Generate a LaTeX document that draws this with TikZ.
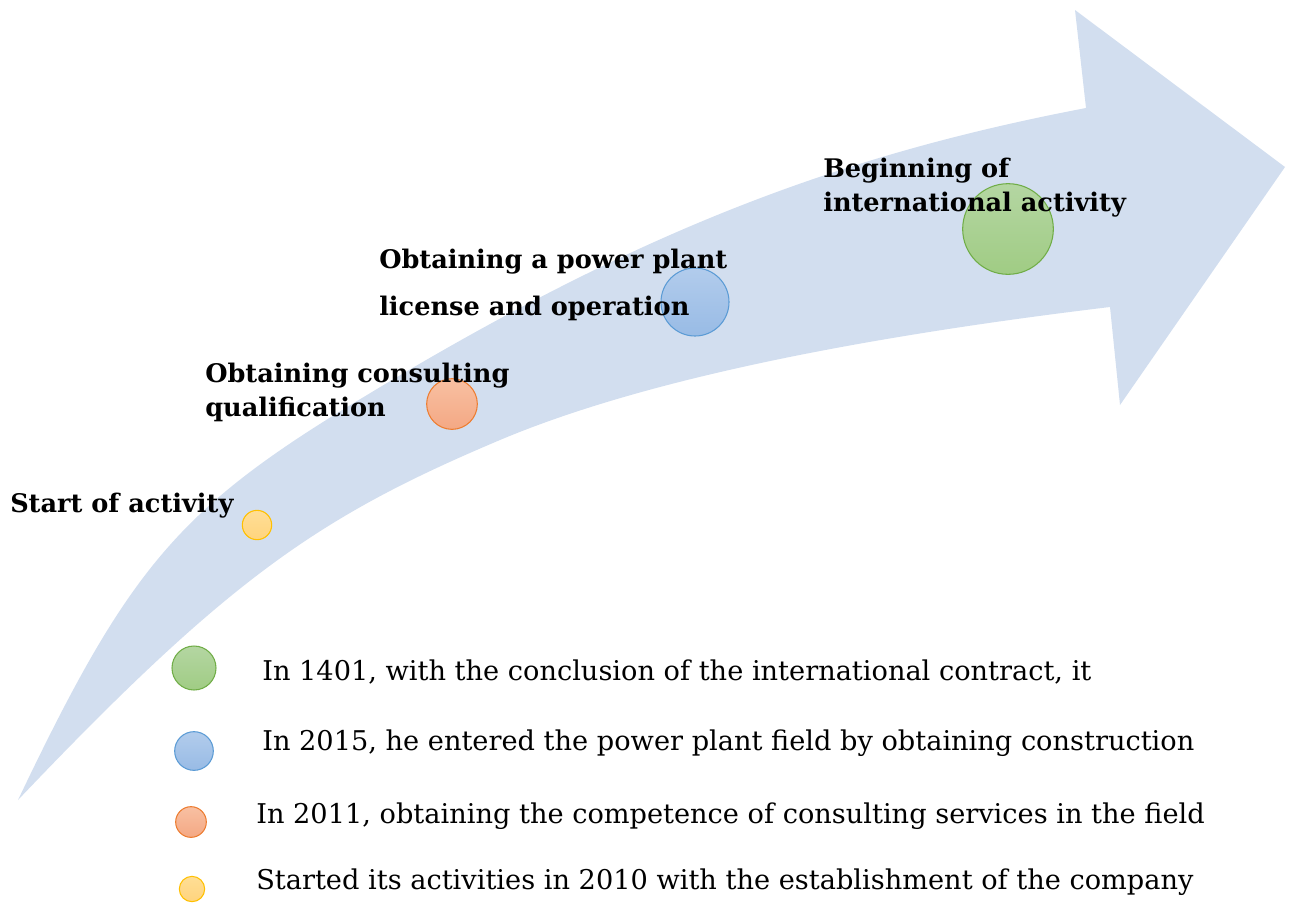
\documentclass[tikz,border=0pt]{standalone}
\usepackage{fontspec}
\setmainfont{DejaVu Serif}

\definecolor{bandblue}{RGB}{210,222,239}
\definecolor{yelTop}{RGB}{255,222,150}
\definecolor{yelBot}{RGB}{255,212,125}
\definecolor{yelLine}{RGB}{255,192,0}
\definecolor{oraTop}{RGB}{248,192,162}
\definecolor{oraBot}{RGB}{244,168,132}
\definecolor{oraLine}{RGB}{237,125,49}
\definecolor{bluTop}{RGB}{178,204,236}
\definecolor{bluBot}{RGB}{152,187,229}
\definecolor{bluLine}{RGB}{91,155,213}
\definecolor{grnTop}{RGB}{180,214,162}
\definecolor{grnBot}{RGB}{160,204,132}
\definecolor{grnLine}{RGB}{112,173,71}

\begin{document}
\begin{tikzpicture}[x=0.75pt, y=-0.75pt,
    dot/.style={circle, inner sep=0pt, line width=0.8pt},
    yeldot/.style={dot, draw=yelLine, top color=yelTop, bottom color=yelBot},
    oradot/.style={dot, draw=oraLine, top color=oraTop, bottom color=oraBot},
    bludot/.style={dot, draw=bluLine, top color=bluTop, bottom color=bluBot},
    grndot/.style={dot, draw=grnLine, top color=grnTop, bottom color=grnBot},
    miletext/.style={anchor=base west, inner sep=0pt, font=\fontsize{19.2}{22}\selectfont\bfseries},
    legtext/.style={anchor=base west, inner sep=0pt, font=\fontsize{20.4}{24}\selectfont}]
    \useasboundingbox (0,0) rectangle (1289,904);

    % the curved arrow band
    \coordinate (tail)     at (18,800);
    \coordinate (upperMid) at (367,395);
    \coordinate (upperEnd) at (1086,108);
    \coordinate (lowerEnd) at (1110,307);
    \coordinate (lowerMid) at (500,440);
    \fill[bandblue] (tail)
      .. controls (130,565) and (180,507) .. (upperMid)
      .. controls (640,230) and (840,155) .. (upperEnd)
      -- (1075,10) -- (1285,167) -- (1120,405) -- (lowerEnd)
      .. controls (836,340) and (633,384) .. (lowerMid)
      .. controls (320,516) and (230,577) .. (tail) -- cycle;

    % milestones on the arrow
    \node[yeldot, minimum size=22pt] (start)   at (257,525) {};
    \node[oradot, minimum size=38pt] (consult) at (452,404) {};
    \node[bludot, minimum size=51pt] (plant)   at (695,302) {};
    \node[grndot, minimum size=68pt] (intl)    at (1008,229) {};

    \node[miletext] (startTxt)    at (10,512)  {Start of activity};
    \node[miletext] (consultTxtA) at (205,382) {Obtaining consulting};
    \node[miletext] (consultTxtB) at (205,416) {qualification};
    \node[miletext] (plantTxtA)   at (379,268) {Obtaining a power plant};
    \node[miletext] (plantTxtB)   at (379,315) {license and operation};
    \node[miletext] (intlTxtA)    at (823,177) {Beginning of};
    \node[miletext] (intlTxtB)    at (823,211) {international activity};

    % legend
    \node[grndot, minimum size=33pt] (legIntl)    at (194,668) {};
    \node[bludot, minimum size=29pt] (legPlant)   at (194,751) {};
    \node[oradot, minimum size=23pt] (legConsult) at (191,822) {};
    \node[yeldot, minimum size=19pt] (legStart)   at (192,889) {};

    \node[legtext] (legIntlTxt)    at (262,680) {In 1401, with the conclusion of the international contract, it};
    \node[legtext] (legPlantTxt)   at (262,750) {In 2015, he entered the power plant field by obtaining construction};
    \node[legtext] (legConsultTxt) at (256,823) {In 2011, obtaining the competence of consulting services in the field};
    \node[legtext] (legStartTxt)   at (256,889) {Started its activities in 2010 with the establishment of the company};
\end{tikzpicture}
\end{document}
